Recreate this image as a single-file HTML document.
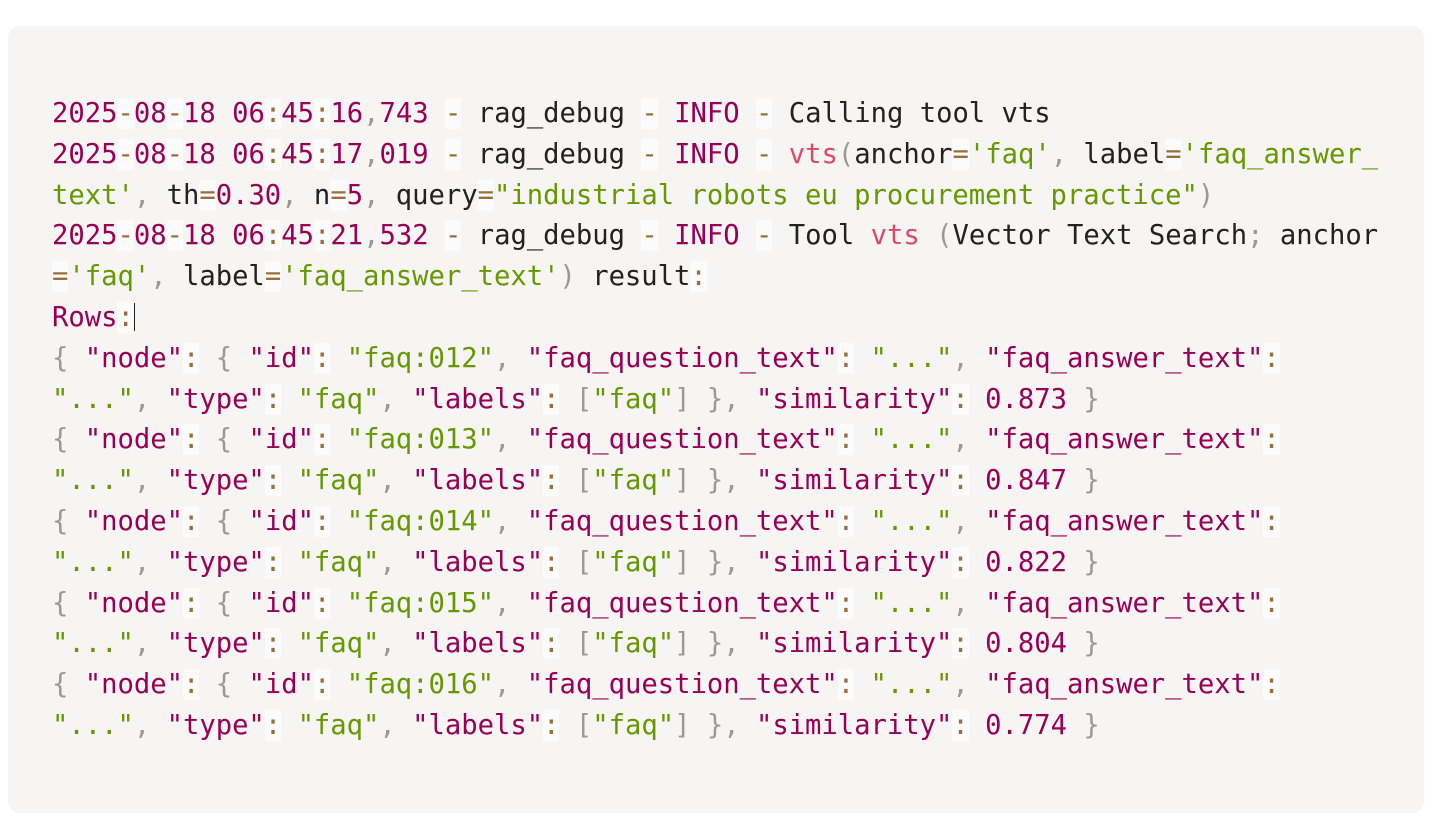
<!DOCTYPE html>
<html><head><meta charset="utf-8"><style>
html,body{margin:0;padding:0;background:#fff;width:1440px;height:830px;overflow:hidden}
.box{position:absolute;left:8px;top:26px;width:1416px;height:787px;background:#f6f5f4;border-radius:12px}
pre{position:absolute;left:52px;top:94px;margin:0;font-family:"DejaVu Sans Mono","Liberation Mono",monospace;font-size:27.2px;line-height:40.8px;color:#222;white-space:pre}
.n{color:#905}.o{color:#9a6e3a;background:rgba(255,255,255,.6)}.p{color:#999}.s{color:#690}.f{color:#DD4A68}
.c{display:inline-block;width:1.5px;height:28px;background:#222;vertical-align:-5px}
</style></head><body><div class="box"></div>
<pre><span class="n">2025</span><span class="o">-</span><span class="n">08</span><span class="o">-</span><span class="n">18</span> <span class="n">06</span><span class="o">:</span><span class="n">45</span><span class="o">:</span><span class="n">16</span><span class="p">,</span><span class="n">743</span> <span class="o">-</span> rag_debug <span class="o">-</span> <span class="n">INFO</span> <span class="o">-</span> Calling tool vts
<span class="n">2025</span><span class="o">-</span><span class="n">08</span><span class="o">-</span><span class="n">18</span> <span class="n">06</span><span class="o">:</span><span class="n">45</span><span class="o">:</span><span class="n">17</span><span class="p">,</span><span class="n">019</span> <span class="o">-</span> rag_debug <span class="o">-</span> <span class="n">INFO</span> <span class="o">-</span> <span class="f">vts</span><span class="p">(</span>anchor<span class="o">=</span><span class="s">'faq'</span><span class="p">,</span> label<span class="o">=</span><span class="s">'faq_answer_</span>
<span class="s">text'</span><span class="p">,</span> th<span class="o">=</span><span class="n">0.30</span><span class="p">,</span> n<span class="o">=</span><span class="n">5</span><span class="p">,</span> query<span class="o">=</span><span class="s">"industrial robots eu procurement practice"</span><span class="p">)</span>
<span class="n">2025</span><span class="o">-</span><span class="n">08</span><span class="o">-</span><span class="n">18</span> <span class="n">06</span><span class="o">:</span><span class="n">45</span><span class="o">:</span><span class="n">21</span><span class="p">,</span><span class="n">532</span> <span class="o">-</span> rag_debug <span class="o">-</span> <span class="n">INFO</span> <span class="o">-</span> Tool <span class="f">vts</span> <span class="p">(</span>Vector Text Search<span class="p">;</span> anchor
<span class="o">=</span><span class="s">'faq'</span><span class="p">,</span> label<span class="o">=</span><span class="s">'faq_answer_text'</span><span class="p">)</span> result<span class="o">:</span>
<span class="n">Rows</span><span class="o">:</span><span class="c"></span>
<span class="p">{</span> <span class="n">"node"</span><span class="o">:</span> <span class="p">{</span> <span class="n">"id"</span><span class="o">:</span> <span class="s">"faq:012"</span><span class="p">,</span> <span class="n">"faq_question_text"</span><span class="o">:</span> <span class="s">"..."</span><span class="p">,</span> <span class="n">"faq_answer_text"</span><span class="o">:</span> 
<span class="s">"..."</span><span class="p">,</span> <span class="n">"type"</span><span class="o">:</span> <span class="s">"faq"</span><span class="p">,</span> <span class="n">"labels"</span><span class="o">:</span> <span class="p">[</span><span class="s">"faq"</span><span class="p">]</span> <span class="p">}</span><span class="p">,</span> <span class="n">"similarity"</span><span class="o">:</span> <span class="n">0.873</span> <span class="p">}</span>
<span class="p">{</span> <span class="n">"node"</span><span class="o">:</span> <span class="p">{</span> <span class="n">"id"</span><span class="o">:</span> <span class="s">"faq:013"</span><span class="p">,</span> <span class="n">"faq_question_text"</span><span class="o">:</span> <span class="s">"..."</span><span class="p">,</span> <span class="n">"faq_answer_text"</span><span class="o">:</span> 
<span class="s">"..."</span><span class="p">,</span> <span class="n">"type"</span><span class="o">:</span> <span class="s">"faq"</span><span class="p">,</span> <span class="n">"labels"</span><span class="o">:</span> <span class="p">[</span><span class="s">"faq"</span><span class="p">]</span> <span class="p">}</span><span class="p">,</span> <span class="n">"similarity"</span><span class="o">:</span> <span class="n">0.847</span> <span class="p">}</span>
<span class="p">{</span> <span class="n">"node"</span><span class="o">:</span> <span class="p">{</span> <span class="n">"id"</span><span class="o">:</span> <span class="s">"faq:014"</span><span class="p">,</span> <span class="n">"faq_question_text"</span><span class="o">:</span> <span class="s">"..."</span><span class="p">,</span> <span class="n">"faq_answer_text"</span><span class="o">:</span> 
<span class="s">"..."</span><span class="p">,</span> <span class="n">"type"</span><span class="o">:</span> <span class="s">"faq"</span><span class="p">,</span> <span class="n">"labels"</span><span class="o">:</span> <span class="p">[</span><span class="s">"faq"</span><span class="p">]</span> <span class="p">}</span><span class="p">,</span> <span class="n">"similarity"</span><span class="o">:</span> <span class="n">0.822</span> <span class="p">}</span>
<span class="p">{</span> <span class="n">"node"</span><span class="o">:</span> <span class="p">{</span> <span class="n">"id"</span><span class="o">:</span> <span class="s">"faq:015"</span><span class="p">,</span> <span class="n">"faq_question_text"</span><span class="o">:</span> <span class="s">"..."</span><span class="p">,</span> <span class="n">"faq_answer_text"</span><span class="o">:</span> 
<span class="s">"..."</span><span class="p">,</span> <span class="n">"type"</span><span class="o">:</span> <span class="s">"faq"</span><span class="p">,</span> <span class="n">"labels"</span><span class="o">:</span> <span class="p">[</span><span class="s">"faq"</span><span class="p">]</span> <span class="p">}</span><span class="p">,</span> <span class="n">"similarity"</span><span class="o">:</span> <span class="n">0.804</span> <span class="p">}</span>
<span class="p">{</span> <span class="n">"node"</span><span class="o">:</span> <span class="p">{</span> <span class="n">"id"</span><span class="o">:</span> <span class="s">"faq:016"</span><span class="p">,</span> <span class="n">"faq_question_text"</span><span class="o">:</span> <span class="s">"..."</span><span class="p">,</span> <span class="n">"faq_answer_text"</span><span class="o">:</span> 
<span class="s">"..."</span><span class="p">,</span> <span class="n">"type"</span><span class="o">:</span> <span class="s">"faq"</span><span class="p">,</span> <span class="n">"labels"</span><span class="o">:</span> <span class="p">[</span><span class="s">"faq"</span><span class="p">]</span> <span class="p">}</span><span class="p">,</span> <span class="n">"similarity"</span><span class="o">:</span> <span class="n">0.774</span> <span class="p">}</span></pre>
</body></html>
